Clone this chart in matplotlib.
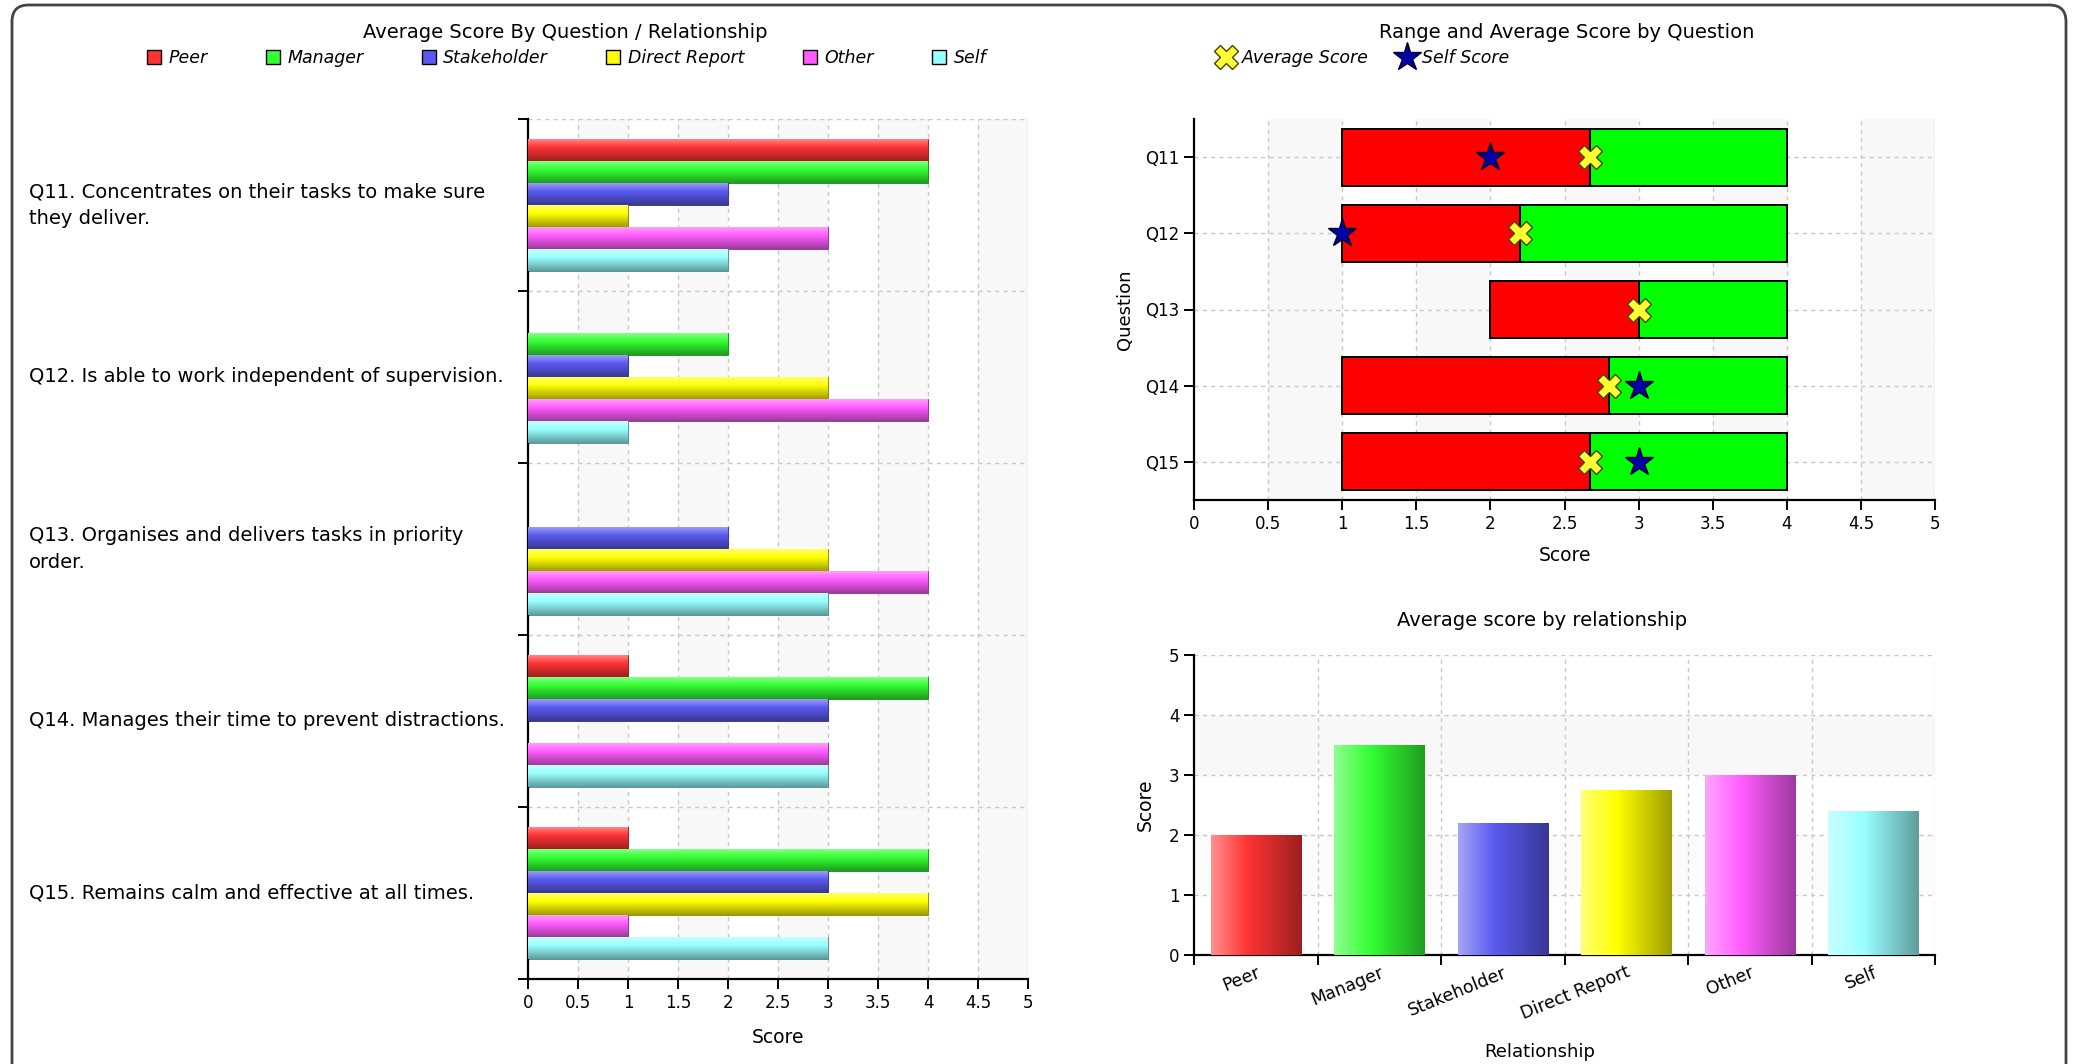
import numpy as np
import matplotlib
matplotlib.use('Agg')
import matplotlib.pyplot as plt
import matplotlib.colors as mcolors
import matplotlib.transforms as mtransforms
from matplotlib.lines import Line2D
from matplotlib.patches import FancyBboxPatch

plt.rcParams['font.family'] = ['DejaVu Sans']

# data
relationships = ['Peer', 'Manager', 'Stakeholder', 'Direct Report', 'Other', 'Self']
rel_colors = ['#FF3333', '#33FF33', '#5A5AF0', '#FFFF00', '#FF5CFF', '#99FFFF']
questions = ['Q11', 'Q12', 'Q13', 'Q14', 'Q15']
question_text = ['Q11. Concentrates on their tasks to make sure\nthey deliver.',
                 'Q12. Is able to work independent of supervision.',
                 'Q13. Organises and delivers tasks in priority\norder.',
                 'Q14. Manages their time to prevent distractions.',
                 'Q15. Remains calm and effective at all times.']
# score per question, one list per relationship (nan = no answer)
peer = [4, np.nan, np.nan, 1, 1]
manager = [4, 2, np.nan, 4, 4]
stakeholder = [2, 1, 2, 3, 3]
direct_report = [1, 3, 3, np.nan, 4]
other = [3, 4, 4, 3, 1]
self_rel = [2, 1, 3, 3, 3]
series = [peer, manager, stakeholder, direct_report, other, self_rel]

# range chart
min_score = [1, 1, 2, 1, 1]
avg_score = [2.67, 2.2, 3.0, 2.8, 2.67]
max_score = [4, 4, 4, 4, 4]
self_score = [2, 1, np.nan, 3, 3]

# average by relationship
rel_avg = [2.0, 3.5, 2.2, 2.75, 3.0, 2.4]

W, H = 2074, 1064
fig = plt.figure(figsize=(W / 100, H / 100), dpi=100)


def fx(px):
    return px / W


def fy(py):
    return 1 - py / H


def shade(ax, patch, color, vertical_grad=True):
    # shiny gradient inside a bar patch
    base = np.array(mcolors.to_rgb(color))
    light = base + (1 - base) * 0.45
    dark = base * 0.62
    t = np.linspace(0, 1, 64)[:, None]
    cols = np.where(t < 0.4, light + (base - light) * (t / 0.4),
                    base + (dark - base) * ((t - 0.4) / 0.6))
    if vertical_grad:
        arr = cols[:, None, :]
    else:
        arr = cols[None, :, :]
    x0, y0 = patch.get_x(), patch.get_y()
    w, h = patch.get_width(), patch.get_height()
    im = ax.imshow(arr, extent=[x0, x0 + w, y0, y0 + h], origin='upper',
                   aspect='auto', interpolation='bilinear', zorder=3)
    im.set_clip_path(patch)


def style_axes(ax):
    for s in ['top', 'right']:
        ax.spines[s].set_visible(False)
    for s in ['left', 'bottom']:
        ax.spines[s].set_linewidth(1.6)
        ax.spines[s].set_color('black')
    ax.tick_params(direction='out', length=7, width=1.4, labelsize=12, colors='black')


grid_kw = dict(color='#C8C8C8', linestyle=(0, (3, 3)), linewidth=1.0, zorder=1)
band = '#F8F8F8'

# ---------------- left chart ----------------
ax1 = fig.add_axes([fx(528), fy(979), fx(1028) - fx(528), fy(119) - fy(979)])
style_axes(ax1)
for k in range(5):
    ax1.axvspan(k + 0.5, k + 1, color=band, zorder=0, lw=0)
bh = 0.128
for j, (vals, col) in enumerate(zip(series, rel_colors)):
    ys = [(5 - i) - 0.115 - (j + 0.5) * bh for i in range(5)]
    v = np.nan_to_num(np.array(vals, dtype=float))
    bars = ax1.barh(ys, v, height=bh, color=col, edgecolor=mcolors.to_rgb(col) * np.array(0.5),
                    linewidth=0.6, zorder=2)
    for b, val in zip(bars, vals):
        if not np.isnan(val):
            shade(ax1, b, col)
ax1.set_xlim(0, 5)
ax1.set_ylim(0, 5)
ax1.set_xticks(np.arange(0, 5.01, 0.5))
ax1.set_xticklabels(['0', '0.5', '1', '1.5', '2', '2.5', '3', '3.5', '4', '4.5', '5'])
ax1.set_yticks(range(6))
ax1.set_yticklabels([])
for xv in np.arange(0.5, 5.01, 0.5):
    ax1.axvline(xv, **grid_kw)
for yv in range(1, 6):
    ax1.axhline(yv, **grid_kw)
ax1.set_xlabel('Score', fontsize=13.5, labelpad=12)
trans = mtransforms.blended_transform_factory(fig.transFigure, ax1.transData)
for i, txt in enumerate(question_text):
    fig.text(fx(29), 4.5 - i, txt, transform=trans, ha='left', va='center',
             fontsize=14, linespacing=1.5)

fig.text(fx(565), fy(32), 'Average Score By Question / Relationship',
         ha='center', va='center', fontsize=14)
handles = [Line2D([], [], marker='s', linestyle='none', markersize=10,
                  markerfacecolor=c, markeredgecolor='black', markeredgewidth=1)
           for c in rel_colors]
fig.legend(handles, relationships, loc='center', bbox_to_anchor=(fx(566), fy(58)),
           ncol=6, frameon=False, prop={'style': 'italic', 'size': 12.5},
           handletextpad=0.4, columnspacing=3.3, handlelength=0.9)

# ---------------- top right: range chart ----------------
ax2 = fig.add_axes([fx(1194), fy(500), fx(1935) - fx(1194), fy(119) - fy(500)])
style_axes(ax2)
for k in range(5):
    ax2.axvspan(k + 0.5, k + 1, color=band, zorder=0, lw=0)
yq = [4 - i for i in range(5)]
for xv in np.arange(0.5, 5.01, 0.5):
    ax2.axvline(xv, **grid_kw)
for yv in yq:
    ax2.axhline(yv, **grid_kw)
lo = np.array(avg_score) - np.array(min_score)
hi = np.array(max_score) - np.array(avg_score)
ax2.barh(yq, lo, left=min_score, height=0.75, color='#FF0000', edgecolor='black', linewidth=1.4, zorder=2)
ax2.barh(yq, hi, left=avg_score, height=0.75, color='#00FF00', edgecolor='black', linewidth=1.4, zorder=2)
ax2.plot(self_score, yq, linestyle='none', marker='*', markersize=21,
         markerfacecolor='#0000AA', markeredgecolor='#000022', markeredgewidth=1, zorder=4)
ax2.plot(avg_score, yq, linestyle='none', marker='X', markersize=17,
         markerfacecolor='#FFFF33', markeredgecolor='#444400', markeredgewidth=1, zorder=5)
ax2.set_xlim(0, 5)
ax2.set_ylim(-0.5, 4.5)
ax2.set_xticks(np.arange(0, 5.01, 0.5))
ax2.set_xticklabels(['0', '0.5', '1', '1.5', '2', '2.5', '3', '3.5', '4', '4.5', '5'])
ax2.set_yticks(yq)
ax2.set_yticklabels(questions)
ax2.set_xlabel('Score', fontsize=13.5, labelpad=10)
ax2.set_ylabel('Question', fontsize=13, labelpad=8)

fig.text(fx(1567), fy(32), 'Range and Average Score by Question',
         ha='center', va='center', fontsize=14)
h2 = [Line2D([], [], marker='X', linestyle='none', markersize=17, markerfacecolor='#FFFF33',
             markeredgecolor='#444400'),
      Line2D([], [], marker='*', linestyle='none', markersize=21, markerfacecolor='#0000AA',
             markeredgecolor='#000022')]
fig.legend(h2, ['Average Score', 'Self Score'], loc='center left',
           bbox_to_anchor=(fx(1200), fy(58)), ncol=2, frameon=False,
           prop={'style': 'italic', 'size': 12.5}, handletextpad=0.3,
           columnspacing=1.6, handlelength=1.2)

# ---------------- bottom right: average by relationship ----------------
ax3 = fig.add_axes([fx(1194), fy(955), fx(1935) - fx(1194), fy(655) - fy(955)])
style_axes(ax3)
ax3.axhspan(1, 2, color='#FBFBFB', zorder=0, lw=0)
ax3.axhspan(3, 4, color=band, zorder=0, lw=0)
xr = np.arange(len(relationships))
for yv in range(1, 6):
    ax3.axhline(yv, **grid_kw)
for xv in np.arange(0.5, 6, 1.0):
    ax3.axvline(xv, **grid_kw)
bars3 = ax3.bar(xr, rel_avg, width=0.73, color=rel_colors,
                edgecolor=[mcolors.to_rgb(c) * np.array(0.55) for c in rel_colors],
                linewidth=0.6, zorder=2)
for b, c in zip(bars3, rel_colors):
    shade(ax3, b, c, vertical_grad=False)
ax3.set_xlim(-0.5, 5.5)
ax3.set_ylim(0, 5)
ax3.set_yticks(range(6))
ax3.set_xticks(np.arange(-0.5, 6, 1.0))
ax3.set_xticklabels([])
ax3.set_xticks(xr, minor=True)
ax3.set_xticklabels(relationships, minor=True, rotation=22, ha='right',
                    rotation_mode='anchor', fontsize=12.5)
ax3.tick_params(axis='x', which='minor', length=0, pad=6)
ax3.set_ylabel('Score', fontsize=13.5, labelpad=10)
fig.text(fx(1542), fy(620), 'Average score by relationship', ha='center', va='center', fontsize=14)
fig.text(fx(1540), fy(1052), 'Relationship', ha='center', va='center', fontsize=13)

# rounded outer frame
frame = FancyBboxPatch((fx(12), fy(1120)), fx(2066) - fx(12), fy(5) - fy(1120),
                       boxstyle='round,pad=0,rounding_size=0.008', mutation_aspect=1.95,
                       transform=fig.transFigure, facecolor='none', edgecolor='#444444',
                       linewidth=2, zorder=10)
fig.patches.append(frame)

fig.savefig('out.png', dpi=100)
